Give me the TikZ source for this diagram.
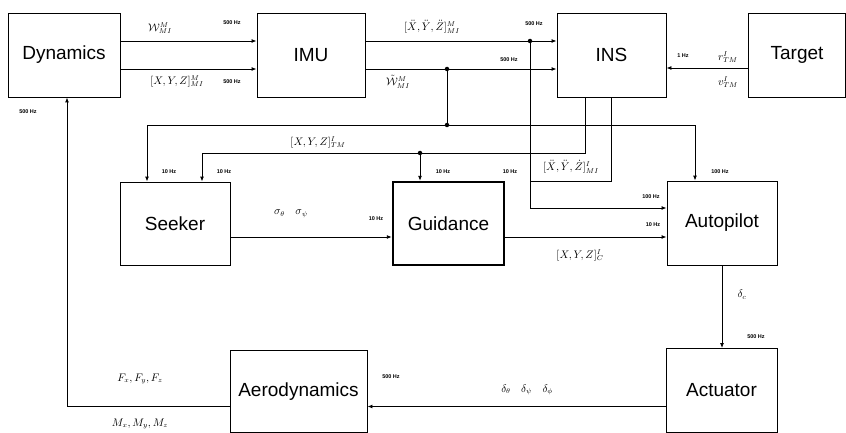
\documentclass[tikz,border=0pt]{standalone}
\usepackage{fontspec}
\setmainfont{Liberation Sans}
\usetikzlibrary{arrows.meta,calc}
\begin{document}
\begin{tikzpicture}[x=1pt,y=-1pt,
  blk/.style={draw,line width=0.9pt,minimum width=#1,minimum height=84pt,inner sep=0pt,
    font=\fontsize{19}{22}\selectfont},
  blk/.default=110pt,
  arr/.style={line width=0.9pt,-{Latex[length=5pt,width=4pt]}},
  ln/.style={line width=0.9pt},
  rate/.style={font=\fontsize{5.5}{6}\selectfont\bfseries,inner sep=0pt},
  lab/.style={font=\fontsize{10.5}{12}\selectfont,inner sep=0pt},
  dot/.style={fill,circle,inner sep=0pt,minimum size=4.5pt}]
\useasboundingbox (0,0) rectangle (846,433);
% blocks
\node[blk=112pt] (Dynamics) at (64,55) {Dynamics};
\node[blk=108pt] (IMU) at (311,55) {IMU};
\node[blk=109pt] (INS) at (611.5,55) {INS};
\node[blk=97pt] (Target) at (797,55) {Target};
\node[blk=110pt,minimum height=83pt] (Seeker) at (175,223.5) {Seeker};
\node[blk=111pt,minimum height=83pt,line width=2.4pt] (Guidance) at (448.5,223.5) {Guidance};
\node[blk=110pt] (Autopilot) at (722,223) {Autopilot};
\node[blk=111pt] (Actuator) at (721.5,390.5) {Actuator};
\node[blk=137pt,minimum height=82pt] (Aero) at (298.5,391.5) {Aerodynamics};
% helper coordinates
\coordinate (yA) at (0,41);
\coordinate (yB) at (0,69);
\coordinate (ja) at (530,41);
\coordinate (jb) at (447,69);
\coordinate (jc) at (447,125);
\coordinate (jd) at (420,153);
\coordinate (jv) at (530,181);
% top connectors
\draw[arr] (Dynamics.east |- yA) -- (IMU.west |- yA);
\draw[arr] (Dynamics.east |- yB) -- (IMU.west |- yB);
\draw[arr] (IMU.east |- yA) -- (INS.west |- yA);
\draw[arr] (IMU.east |- yB) -- (INS.west |- yB);
\node[dot] (da) at (ja) {};
\node[dot] (db) at (jb) {};
\node[dot] (dc) at (jc) {};
\node[dot] (dd) at (jd) {};
\draw[ln] (db) -- (dc);
\draw[arr] (dc) -| ([xshift=-28pt]Seeker.north);
\draw[arr] (dc) -| ([xshift=-27pt]Autopilot.north);
\draw[arr] (da) |- ([yshift=15pt]Autopilot.west);
\draw[ln] ([xshift=-26.5pt]INS.south) |- (dd);
\draw[arr] (dd) -| ([xshift=27pt]Seeker.north);
\draw[arr] (dd) -- (dd |- Guidance.north);
\draw[ln] (INS.south) |- (jv);
% middle connectors
\draw[arr] ([yshift=-13.5pt]Seeker.east) coordinate (s) -- (Guidance.west |- s);
\draw[arr] ([yshift=-13.5pt]Guidance.east) coordinate (g) -- (Autopilot.west |- g);
\draw[arr] (Autopilot.south) -- (Autopilot.south |- Actuator.north);
% bottom connectors
\draw[arr] ([yshift=-16pt]Actuator.west) coordinate (q) -- (Aero.east |- q);
\draw[arr] (Aero.west |- q) -| ([xshift=3pt]Dynamics.south);
\draw[arr] ([yshift=-13pt]Target.west) coordinate (t) -- (INS.east |- t);
% labels top
\node[lab] at (160,28) {$\mathcal{W}^{M}_{MI}$};
\node[rate] at (232,23) {500 Hz};
\node[lab] at (177,81) {$[X,Y,Z]^{M}_{MI}$};
\node[rate] at (232,82) {500 Hz};
\node[lab] at (432,27) {$[\ddot{X},\ddot{Y},\ddot{Z}]^{M}_{MI}$};
\node[rate] at (534,24) {500 Hz};
\node[rate] at (509,60) {500 Hz};
\node[lab] at (398,82) {$\tilde{\mathcal{W}}^{M}_{MI}$};
\node[rate] at (683,56) {1 Hz};
\node[lab] at (728,57) {$r^{I}_{TM}$};
\node[lab] at (728,82) {$v^{I}_{TM}$};
% labels middle
\node[rate] at (28,112) {500 Hz};
\node[lab] at (318,142) {$[X,Y,Z]^{I}_{TM}$};
\node[rate] at (169,172) {10 Hz};
\node[rate] at (224,172) {10 Hz};
\node[rate] at (443,172) {10 Hz};
\node[rate] at (510,172) {10 Hz};
\node[lab] at (571,167) {$[\ddot{X},\ddot{Y},\dot{Z}]^{I}_{MI}$};
\node[rate] at (720,172) {100 Hz};
\node[rate] at (651,197) {100 Hz};
\node[rate] at (653,225) {10 Hz};
\node[lab] at (580,255) {$[X,Y,Z]^{I}_{C}$};
\node[lab] at (291,214) {$\sigma_{\theta}\quad\sigma_{\psi}$};
\node[rate] at (376,219) {10 Hz};
% labels bottom
\node[lab] at (742,295) {$\delta_{c}$};
\node[rate] at (756,337) {500 Hz};
\node[rate] at (391,377) {500 Hz};
\node[lab] at (527,390) {$\delta_{\theta}\quad\delta_{\psi}\quad\delta_{\phi}$};
\node[lab] at (140,379) {$F_{x},F_{y},F_{z}$};
\node[lab] at (140,424) {$M_{x},M_{y},M_{z}$};
\end{tikzpicture}
\end{document}
